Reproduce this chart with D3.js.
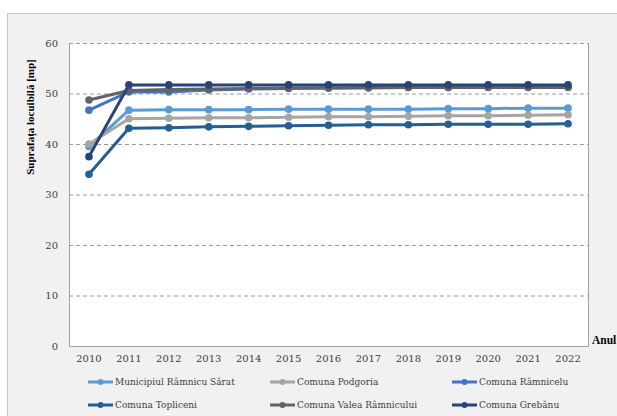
<!DOCTYPE html>
<html><head><meta charset="utf-8">
<script src="https://cdn.jsdelivr.net/npm/d3@7"></script>
<style>html,body{margin:0;padding:0;background:#fff;overflow:hidden}</style>
</head><body>
<svg id="c" width="617" height="416"></svg>
<script>
const years = ["2010","2011","2012","2013","2014","2015","2016","2017","2018","2019","2020","2021","2022"];
const seriesNames = ["Municipiul Râmnicu Sărat","Comuna Podgoria","Comuna Râmnicelu","Comuna Topliceni","Comuna Valea Râmnicului","Comuna Grebănu"];
const municipiul = [39.5,46.7,46.8,46.8,46.8,46.9,46.9,46.9,46.9,47.0,47.0,47.1,47.1];
const podgoria   = [40.0,45.0,45.1,45.2,45.2,45.3,45.4,45.4,45.5,45.6,45.6,45.7,45.8];
const ramnicelu  = [46.7,50.3,50.3,50.7,50.9,51.0,51.1,51.1,51.2,51.2,51.3,51.3,51.3];
const topliceni  = [34.0,43.1,43.2,43.4,43.5,43.6,43.7,43.8,43.8,43.9,43.9,43.9,44.0];
const valea      = [48.7,50.6,50.8,50.9,51.0,51.1,51.1,51.2,51.2,51.2,51.2,51.2,51.2];
const grebanu    = [37.5,51.7,51.7,51.7,51.7,51.7,51.7,51.7,51.7,51.7,51.7,51.7,51.7];
const yTicks = [0,10,20,30,40,50,60];
const colors = ["#5b9bd5","#a5a5a5","#4472c4","#255e91","#636363","#264478"];
const allSeries = [municipiul,podgoria,ramnicelu,topliceni,valea,grebanu];

const svg = d3.select("#c");
const font = "'DejaVu Serif', serif";
const titleFont = "'Liberation Serif', serif";
// outer frame
svg.append("rect").attr("x",7.5).attr("y",13.5).attr("width",640).attr("height",420)
  .attr("fill","#f1f1f1").attr("stroke","#c9c9c9");

const L=69, R=588, T=43, B=346;
const x = d3.scaleBand().domain(years).range([L,R]);
const y = d3.scaleLinear().domain([0,60]).range([B,T]);

svg.append("rect").attr("x",L).attr("y",T).attr("width",R-L).attr("height",B-T).attr("fill","#fff");

// grid
svg.append("g").selectAll("line").data(yTicks.filter(d=>d>0)).join("line")
  .attr("x1",L).attr("x2",R).attr("y1",d=>y(d)+0.5).attr("y2",d=>y(d)+0.5)
  .attr("stroke","#9a9a9a").attr("stroke-dasharray","4,3").attr("stroke-width",1);
// borders
svg.append("path").attr("d",`M${L+0.5},${T}V${B+0.5}H${R+0.5}V${T}`)
  .attr("fill","none").attr("stroke","#a0a0a0").attr("stroke-width",1);

// y axis labels
const yAxis = d3.axisLeft(y).tickValues(yTicks).tickSize(0).tickPadding(11);
const gy = svg.append("g").attr("transform",`translate(${L},0)`).call(yAxis);
gy.select(".domain").remove();
gy.selectAll("text").attr("font-family",font).attr("font-size",10).attr("fill","#404040");

const xAxis = d3.axisBottom(x).tickSize(0).tickPadding(9);
const gx = svg.append("g").attr("transform",`translate(0,${B})`).call(xAxis);
gx.select(".domain").remove();
gx.selectAll("text").attr("font-family",font).attr("font-size",10).attr("fill","#404040");

// lines
const line = d3.line().x((d,i)=>x(years[i])+x.bandwidth()/2).y(d=>y(d));
allSeries.forEach((s,k)=>{
  const g = svg.append("g");
  g.append("path").datum(s).attr("d",line).attr("fill","none")
    .attr("stroke",colors[k]).attr("stroke-width",3).attr("stroke-linejoin","round");
  g.selectAll("circle").data(s).join("circle")
    .attr("cx",(d,i)=>x(years[i])+x.bandwidth()/2).attr("cy",d=>y(d)).attr("r",3.8)
    .attr("fill",colors[k]);
});

// titles
svg.append("text").attr("transform","translate(34,117) rotate(-90)")
  .attr("text-anchor","middle").attr("font-family",titleFont).attr("font-weight","bold")
  .attr("font-size",11).attr("fill","#000").text("Suprafața locuibilă [mp]");
svg.append("text").attr("x",592).attr("y",344).attr("font-family",titleFont)
  .attr("font-weight","bold").attr("font-size",11.5).attr("fill","#000").text("Anul");

// legend
const legX = [88,270,452], legY=[382,405];
seriesNames.forEach((n,k)=>{
  const lx = legX[k%3], ly = legY[Math.floor(k/3)];
  const g = svg.append("g");
  g.append("line").attr("x1",lx).attr("x2",lx+25).attr("y1",ly).attr("y2",ly)
    .attr("stroke",colors[k]).attr("stroke-width",3);
  g.append("circle").attr("cx",lx+12.5).attr("cy",ly).attr("r",3).attr("fill",colors[k]);
  g.append("text").attr("x",lx+27).attr("y",ly).attr("dy","0.35em")
    .attr("font-family",font).attr("font-size",9).attr("fill","#404040").text(n);
});
</script>
</body></html>
